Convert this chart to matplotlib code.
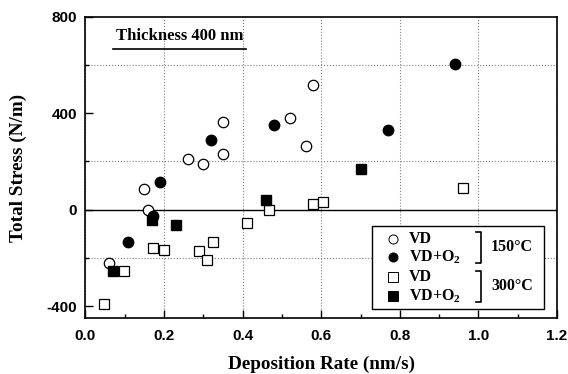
import numpy as np
import matplotlib.pyplot as plt
from matplotlib.patches import Rectangle

# VD, 150 C (open circles)
vd150_x = [0.061, 0.15, 0.159, 0.26, 0.30, 0.35, 0.35, 0.521, 0.56, 0.58]
vd150_y = [-221, 87, -3, 209, 190, 365, 233, 381, 263, 516]
# VD+O2, 150 C (filled circles)
vdo150_x = [0.109, 0.171, 0.19, 0.32, 0.48, 0.77, 0.94]
vdo150_y = [-133, -28, 116, 291, 350, 331, 606]
# VD, 300 C (open squares)
vd300_x = [0.048, 0.099, 0.171, 0.20, 0.288, 0.31, 0.325, 0.41, 0.468, 0.58, 0.604, 0.962]
vd300_y = [-392, -256, -157, -166, -170, -209, -133, -54, 0, 24, 32, 90]
# VD+O2, 300 C (filled squares)
vdo300_x = [0.069, 0.17, 0.23, 0.46, 0.70]
vdo300_y = [-256, -44, -62, 41, 167]

serif = "Liberation Serif"
sans = "Liberation Sans"
plt.rcParams["mathtext.fontset"] = "custom"
plt.rcParams["mathtext.rm"] = "Liberation Serif:bold"
plt.rcParams["mathtext.bf"] = "Liberation Serif:bold"
plt.rcParams["mathtext.it"] = "Liberation Serif:bold"

fig = plt.figure(figsize=(5.68, 3.74), dpi=100)
ax = fig.add_axes([0.1505, 0.149, 0.8301, 0.8063])

ms = 7.5
ax.plot(vd150_x, vd150_y, "o", mfc="white", mec="black", mew=0.9, ms=ms, zorder=3)
ax.plot(vdo150_x, vdo150_y, "o", mfc="black", mec="black", ms=ms, zorder=4)
ax.plot(vd300_x, vd300_y, "s", mfc="white", mec="black", mew=0.9, ms=ms, zorder=3)
ax.plot(vdo300_x, vdo300_y, "s", mfc="black", mec="black", ms=ms, zorder=4)

ax.set_xlim(0, 1.2)
ax.set_ylim(-450, 800)
ax.set_xticks(np.arange(0, 1.21, 0.2))
ax.set_xticks(np.arange(0, 1.21, 0.1), minor=True)
ax.set_yticks([-400, 0, 400, 800])
ax.set_yticks(np.arange(-400, 801, 200), minor=True)
ax.tick_params(which="both", direction="in", top=False, right=False)
ax.tick_params(which="major", length=6, width=1)
ax.tick_params(which="minor", length=3, width=1)
ax.grid(axis="x", which="major", ls=":", color="gray", lw=0.8)
ax.grid(axis="y", which="minor", ls=":", color="gray", lw=0.8)
ax.axhline(0, color="black", lw=1.0, zorder=2)
for s in ax.spines.values():
    s.set_linewidth(1.2)

ax.set_xticklabels(["0.0", "0.2", "0.4", "0.6", "0.8", "1.0", "1.2"])
ax.set_yticklabels(["-400", "0", "400", "800"])
for lab in ax.get_xticklabels() + ax.get_yticklabels():
    lab.set_fontfamily(sans)
    lab.set_fontweight("bold")
    lab.set_fontsize(11)
ax.tick_params(axis="x", pad=8)
ax.tick_params(axis="y", pad=6)

ax.set_xlabel("Deposition Rate (nm/s)", fontfamily=serif, fontweight="bold", fontsize=13.8, labelpad=9)
ax.set_ylabel("Total Stress (N/m)", fontfamily=serif, fontweight="bold", fontsize=13.8, labelpad=14)

# pixel -> axes fraction helpers
def fx(px):
    return (px - 85.5) / (557 - 85.5)

def fy(py):
    return (318.3 - py) / (318.3 - 16.7)

ax.text(fx(180), fy(36), "Thickness 400 nm", transform=ax.transAxes, ha="center", va="center",
        fontfamily=serif, fontweight="bold", fontsize=12)
ax.plot([fx(113), fx(246)], [fy(48.5), fy(48.5)], color="black", lw=1.2, transform=ax.transAxes)

# legend drawn by hand
ax.add_patch(Rectangle((fx(372), fy(309.5)), fx(544.5) - fx(372), fy(226) - fy(309.5),
                       transform=ax.transAxes, facecolor="white", edgecolor="black", lw=1.0, zorder=5))
rows = [239, 257.5, 277.5, 296]
labels = ["VD", "VD+O$_{2}$", "VD", "VD+O$_{2}$"]
styles = [("o", "white"), ("o", "black"), ("s", "white"), ("s", "black")]
for ry, lab, (m, fc) in zip(rows, labels, styles):
    ax.plot(fx(393.5), fy(ry), m, mfc=fc, mec="black", mew=0.7, ms=6.5, transform=ax.transAxes, zorder=6)
    ax.text(fx(409), fy(ry), lab, transform=ax.transAxes, ha="left", va="center",
            fontfamily=serif, fontweight="bold", fontsize=11.5, zorder=6)
for (t, b), temp in zip([(232, 263), (271, 302)], ["150°C", "300°C"]):
    ax.plot([fx(476), fx(481), fx(481), fx(476)], [fy(t), fy(t), fy(b), fy(b)],
            color="black", lw=1.2, transform=ax.transAxes, zorder=6)
    ax.text(fx(491), fy((t + b) / 2), temp, transform=ax.transAxes, ha="left", va="center",
            fontfamily=serif, fontweight="bold", fontsize=11.5, zorder=6)

fig.savefig("out.png", dpi=100)
